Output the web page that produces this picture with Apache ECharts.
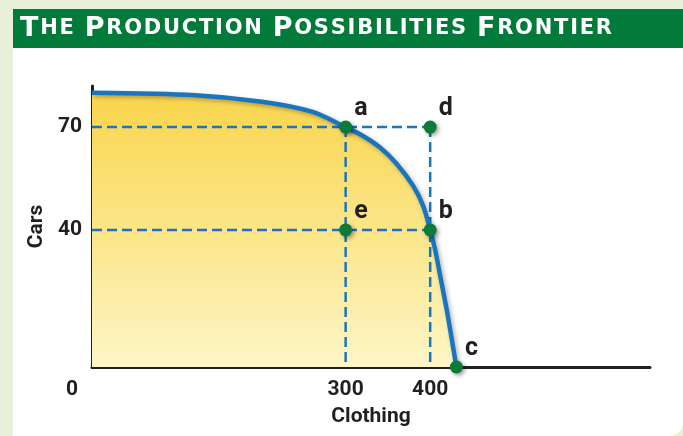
<!DOCTYPE html>
<html>
<head>
<meta charset="utf-8">
<script src="https://cdn.jsdelivr.net/npm/echarts@6/dist/echarts.min.js"></script>
<style>
  html, body { margin: 0; padding: 0; background: #e9f0d9; }
  #chart { width: 683px; height: 436px; }
</style>
</head>
<body>
<div id="chart"></div>
<script>
// frontier curve (clothing, cars)
var frontierX = [0, 122, 201, 260, 300, 320, 340, 360, 380, 392, 400, 406, 412, 419.5, 425.5, 431];
var frontierY = [80, 79.3, 77.4, 74.5, 70, 67.5, 64.2, 59.4, 52.8, 46.8, 40, 34.1, 26.4, 16.8, 8.2, 0];

// labelled points
var pointNames = ['a', 'b', 'c', 'd', 'e'];
var pointX = [300, 400, 431, 400, 300];
var pointY = [70, 40, 0, 70, 40];

// ticks
var xTicks = [0, 300, 400];
var yTicks = [40, 70];

var titleText = 'THE PRODUCTION POSSIBILITIES FRONTIER';

var font = 'Roboto, sans-serif';
var titleFont = "'DejaVu Sans', sans-serif";
var blue = '#1a75bf';
var green = '#0b7a3b';
var ink = '#231f20';

var frontier = frontierX.map(function (x, i) { return [x, frontierY[i]]; });
var points = pointNames.map(function (n, i) { return { name: n, value: [pointX[i], pointY[i]] }; });

// dashed guides: from the axis to a/d and e/b, and down from a and d
function pt(n) { var i = pointNames.indexOf(n); return [pointX[i], pointY[i]]; }
var guides = [
  [[0, pt('a')[1]], pt('d')],
  [[0, pt('e')[1]], pt('b')],
  [pt('a'), [pt('a')[0], 0]],
  [pt('d'), [pt('d')[0], 0]]
];

/* small-caps title with tracking */
var bigSize = 27, smallSize = 21, titleWidth = 592;
var cv = document.createElement('canvas').getContext('2d');
var tokens = [];
var words = titleText.split(' ');
words.forEach(function (w, wi) {
  for (var k = 0; k < w.length; k++) tokens.push({ ch: w[k], big: k === 0 });
  if (wi < words.length - 1) tokens.push({ ch: ' ', big: false });
});
var natural = 0;
tokens.forEach(function (t) {
  cv.font = 'bold ' + (t.big ? bigSize : smallSize) + 'px ' + titleFont;
  natural += cv.measureText(t.ch === ' ' ? '\u00a0' : t.ch).width;
});
var track = Math.max(0, (titleWidth - natural) / (tokens.length - 1));
var titleRich = {
  b: { fontFamily: titleFont, fontWeight: 'bold', fontSize: bigSize, color: '#fff', padding: [0, track, 0, 0] },
  s: { fontFamily: titleFont, fontWeight: 'bold', fontSize: smallSize, color: '#fff', padding: [0, track, 0, 0] }
};
var titleStr = tokens.map(function (t) {
  return '{' + (t.big ? 'b' : 's') + '|' + (t.ch === ' ' ? '\u00a0' : t.ch) + '}';
}).join('');

var series = [];

/* yellow fill under the frontier */
series.push({
  type: 'line',
  data: frontier,
  smooth: 0.3,
  symbol: 'none',
  z: 2,
  lineStyle: { width: 0 },
  areaStyle: {
    opacity: 1,
    color: new echarts.graphic.LinearGradient(0, 0, 0, 1, [
      { offset: 0, color: '#f9d54c' },
      { offset: 1, color: '#fdf6c6' }
    ])
  }
});

guides.forEach(function (g) {
  series.push({
    type: 'line',
    data: g,
    symbol: 'none',
    z: 3,
    lineStyle: { color: blue, width: 2.5, type: [10, 5] }
  });
});

/* frontier line */
series.push({
  type: 'line',
  data: frontier,
  smooth: 0.3,
  symbol: 'none',
  z: 4,
  lineStyle: { color: blue, width: 4.5, shadowColor: 'rgba(0,0,0,0.3)', shadowBlur: 4, shadowOffsetX: 2, shadowOffsetY: 2 }
});

series.push({
  type: 'scatter',
  data: points,
  symbolSize: 13,
  z: 5,
  itemStyle: { color: green, opacity: 1, shadowColor: 'rgba(0,0,0,0.4)', shadowBlur: 4, shadowOffsetX: 2, shadowOffsetY: 2 },
  label: {
    show: true,
    formatter: '{b}',
    position: 'right',
    fontFamily: font,
    fontWeight: 'bold',
    fontSize: 25,
    color: ink,
    offset: [-3, -18]
  }
});

var chart = echarts.init(document.getElementById('chart'));
chart.setOption({
  backgroundColor: '#e9f0d9',
  animation: false,
  graphic: [
    { type: 'rect', shape: { x: 13, y: 48, width: 670, height: 388, r: [0, 0, 14, 0] }, style: { fill: '#ffffff' }, z: -10 },
    { type: 'rect', shape: { x: 13, y: 9, width: 670, height: 39 }, style: { fill: '#027a3a' }, z: -9 }
  ],
  title: {
    text: titleStr,
    left: 20,
    top: 15,
    padding: 0,
    textStyle: { rich: titleRich }
  },
  grid: { left: 92, right: 33, top: 86, bottom: 69 },
  xAxis: {
    type: 'value',
    min: 0,
    max: 660,
    name: 'Clothing',
    nameLocation: 'middle',
    nameGap: 39,
    nameTextStyle: { fontFamily: font, fontWeight: 'bold', fontSize: 21, color: ink },
    axisLine: { lineStyle: { color: ink, width: 3 } },
    axisTick: { show: false },
    splitLine: { show: false },
    axisLabel: {
      customValues: xTicks,
      margin: 12,
      fontFamily: font,
      fontWeight: 'bold',
      fontSize: 21,
      color: ink,
      formatter: function (v) { return v === 0 ? '{z|0}' : String(v); },
      rich: { z: { fontFamily: font, fontWeight: 'bold', fontSize: 21, color: ink, padding: [0, 40, 0, 0] } }
    }
  },
  yAxis: {
    type: 'value',
    min: 0,
    max: 82,
    name: 'Cars',
    nameLocation: 'middle',
    nameGap: 40,
    nameTextStyle: { fontFamily: font, fontWeight: 'bold', fontSize: 21, color: ink },
    axisLine: { show: true, lineStyle: { color: ink, width: 3 } },
    axisTick: { show: false },
    splitLine: { show: false },
    axisLabel: {
      customValues: yTicks,
      margin: 10,
      fontFamily: font,
      fontWeight: 'bold',
      fontSize: 21,
      color: ink
    }
  },
  series: series
});
</script>
</body>
</html>
